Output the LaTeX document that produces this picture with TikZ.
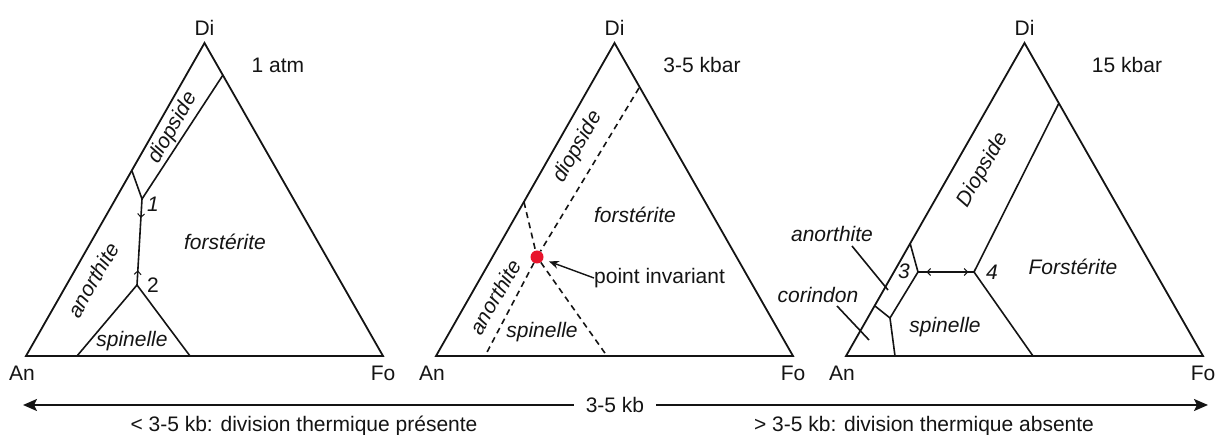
\documentclass[tikz,border=0pt]{standalone}
\usepackage{fontspec}
\setmainfont{Liberation Sans}
\usetikzlibrary{arrows.meta,decorations.markings}
\definecolor{ink}{HTML}{141414}
\definecolor{invred}{HTML}{E8142C}
\tikzset{
  frame/.style={draw=ink,line width=1.8pt,line join=miter},
  bound/.style={draw=ink,line width=1.6pt},
  dashbound/.style={bound,dash pattern=on 6pt off 4.5pt},
  txt/.style={text=ink,font=\fontsize{21}{25}\selectfont,inner sep=0pt},
  phase/.style={txt,font=\fontsize{21}{25}\selectfont\itshape},
  barb/.tip={Straight Barb[length=3.5pt,width=7pt,line width=1pt]},
  flowin/.style={postaction={decorate,decoration={markings,
    mark=at position .22 with {\arrow{barb}},
    mark=at position .83 with {\arrowreversed{barb}}}}},
  flowout/.style={postaction={decorate,decoration={markings,
    mark=at position .15 with {\arrowreversed{barb}},
    mark=at position .9 with {\arrow{barb}}}}},
  bigarrow/.style={draw=ink,line width=2.2pt,-{Stealth[length=14pt,width=12pt,inset=3pt]}}
}
\begin{document}
\begin{tikzpicture}[x=1pt,y=-1pt]
\useasboundingbox (0,0) rectangle (1216,435);
% the three triangles
\foreach \i/\xo/\pr/\px in {1/0/1 atm/278,2/410/3-5 kbar/292,3/820/15 kbar/307}{
  \begin{scope}[xshift=\xo pt]
  \coordinate (An\i) at (26,356);
  \coordinate (Fo\i) at (383,356);
  \coordinate (Di\i) at (204.5,43);
  \draw[frame] (An\i) -- (Di\i) -- (Fo\i) -- cycle;
  \node[txt,above=7pt] at (Di\i) {Di};
  \node[txt,below=10pt,xshift=-4pt] at (An\i) {An};
  \node[txt,below=10pt] at (Fo\i) {Fo};
  \node[txt] (pr\i) at (\px,65) {\pr};
  \end{scope}
}
% 1 atm
\coordinate (dt1) at (223,75);
\coordinate (one) at (142,199);
\coordinate (ae1) at (132,171);
\coordinate (two) at (137,285);
\coordinate (sl1) at (77,356);
\coordinate (sr1) at (190,356);
\draw[bound] (dt1) -- (one) -- (ae1);
\draw[bound,flowin] (one) -- (two);
\draw[bound] (sl1) -- (two) -- (sr1);
\node[phase,rotate=60] at (173,128) {diopside};
\node[phase,rotate=60] at (93,280) {anorthite};
\node[phase] at (225,242) {forstérite};
\node[phase] at (132,341) {spinelle};
\node[phase] at (153,204) {1};
\node[txt] at (153,285) {2};
% 3-5 kbar
\begin{scope}[xshift=410pt]
\node[circle,fill=invred,minimum size=13pt,inner sep=0pt] (inv) at (127,257) {};
\coordinate (dt2) at (229,88);
\coordinate (db2) at (75,356);
\coordinate (at2) at (114,202);
\coordinate (ab2) at (197,356);
\draw[dashbound] (dt2) -- (inv) -- (db2);
\draw[dashbound] (at2) -- (inv) -- (ab2);
\node[txt,anchor=west] (pinv) at (184,278) {point invariant};
\draw[draw=ink,line width=1.4pt,-{Stealth[length=10pt,width=8pt]},shorten >=6pt] (pinv.west) -- (inv);
\node[phase,rotate=60] at (168,147) {diopside};
\node[phase,rotate=60] at (85,297) {anorthite};
\node[phase] at (225,215) {forstérite};
\node[phase] at (132,332) {spinelle};
\end{scope}
% 15 kbar
\begin{scope}[xshift=820pt]
\coordinate (dt3) at (238.5,104);
\coordinate (four) at (154,272);
\coordinate (sr3) at (213,356);
\coordinate (three) at (98,272);
\coordinate (ae3) at (90,243);
\coordinate (cj) at (70,318);
\coordinate (ce3) at (55,306);
\coordinate (sl3) at (75,356);
\draw[bound] (dt3) -- (four) -- (sr3);
\draw[bound] (ae3) -- (three) -- (cj) -- (sl3);
\draw[bound] (ce3) -- (cj);
\draw[bound,flowout] (three) -- (four);
\node[phase] (anl) at (12,234) {anorthite};
\node[phase] (col) at (-2,295) {corindon};
\coordinate (an0) at (32,246);
\coordinate (an1) at (68,290);
\coordinate (co0) at (17,306);
\coordinate (co1) at (49,340);
\draw[bound] (an0) -- (an1);
\draw[bound] (co0) -- (co1);
\node[phase,rotate=60] at (163,170) {Diopside};
\node[phase] at (253,267) {Forstérite};
\node[phase] at (125,327) {spinelle};
\node[phase] at (84,271) {3};
\node[phase] at (172,272) {4};
\end{scope}
% pressure axis
\node[txt,inner xsep=12pt] (kb) at (615,405) {3-5 kb};
\coordinate (lend) at (23,405);
\coordinate (rend) at (1208,405);
\draw[bigarrow] (kb.west) -- (lend);
\draw[bigarrow] (kb.east) -- (rend);
\node[txt] at (304,426) {< 3-5 kb: division thermique présente};
\node[txt] at (924,426) {> 3-5 kb: division thermique absente};
\end{tikzpicture}
\end{document}
